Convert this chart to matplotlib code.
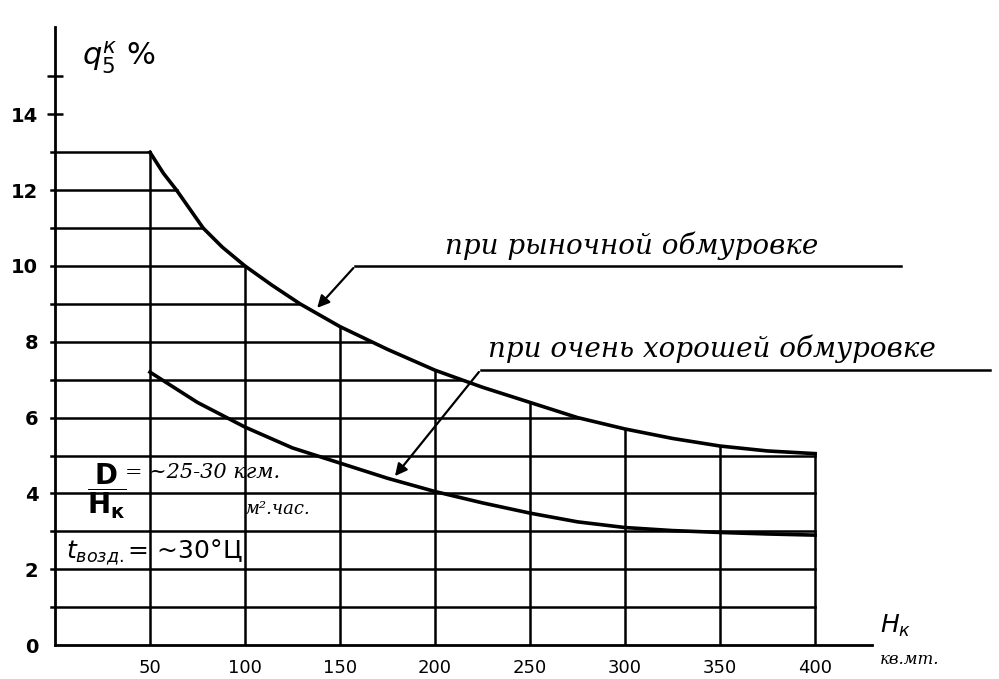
import numpy as np
import matplotlib
matplotlib.use("Agg")
import matplotlib.pyplot as plt

# readings (x in кв.мт., q in %)
x_upper = [50, 57, 64, 71, 78, 88, 100, 114, 129, 150, 175, 200, 225, 250, 275, 300, 325, 350, 375, 400]
q_upper = [13.0, 12.45, 12.0, 11.5, 11.0, 10.5, 10.0, 9.5, 9.0, 8.4, 7.8, 7.25, 6.8, 6.4, 6.0, 5.7, 5.45, 5.25, 5.12, 5.05]

x_lower = [50, 75, 100, 125, 150, 175, 200, 225, 250, 275, 300, 325, 350, 375, 400]
q_lower = [7.2, 6.4, 5.75, 5.2, 4.8, 4.4, 4.05, 3.75, 3.48, 3.25, 3.1, 3.02, 2.97, 2.93, 2.9]

x_ticks = [50, 100, 150, 200, 250, 300, 350, 400]
y_ticks = [0, 2, 4, 6, 8, 10, 12, 14]
grid_levels = list(range(1, 14))

label_upper = "при рыночной обмуровке"
label_lower = "при очень хорошей обмуровке"

hand = dict(family="DejaVu Serif", style="italic")

fig = plt.figure(figsize=(9.99, 6.79), dpi=100)
ax = fig.add_axes([0.055, 0.050, 0.818, 0.91])
ax.set_xlim(0, 430)
ax.set_ylim(0, 16.3)

for s in ["top", "right"]:
    ax.spines[s].set_visible(False)
ax.spines["left"].set_linewidth(2)
ax.spines["bottom"].set_linewidth(2)

# grid only under the upper curve
for k in grid_levels:
    x_end = np.interp(k, q_upper[::-1], x_upper[::-1])
    ax.plot([-2, x_end], [k, k], color="black", lw=1.8, clip_on=False)
for xv in x_ticks:
    top = np.interp(xv, x_upper, q_upper)
    ax.plot([xv, xv], [0, top], color="black", lw=1.8)

ax.plot(x_upper, q_upper, color="black", lw=2.6)
ax.plot(x_lower, q_lower, color="black", lw=2.6)

# ticks
ax.yaxis.remove_overlapping_locs = False
ax.set_xticks(x_ticks)
ax.set_xticklabels([str(v) for v in x_ticks], fontsize=13)
ax.set_yticks(y_ticks)
ax.set_yticklabels([str(v) for v in y_ticks], fontsize=14, fontweight="bold")
ax.set_yticks([14, 15], minor=True)
ax.tick_params(axis="x", length=0, pad=10)
ax.tick_params(axis="y", which="major", length=0, pad=12)
ax.tick_params(axis="y", which="minor", direction="inout", length=12, width=1.8)

# axis titles
ax.text(14, 15.0, r"$q_5^к$ %", fontsize=22, va="bottom", ha="left", clip_on=False)
ax.text(434, 0.15, r"$H_к$", fontsize=18, **hand, va="bottom", clip_on=False)
ax.text(434, -0.15, "кв.мт.", fontsize=12, **hand, va="top", clip_on=False)

# curve labels with leaders
ax.text(205, 10.15, label_upper, fontsize=20, va="bottom", **hand, clip_on=False)
ax.plot([158, 445], [10, 10], color="black", lw=1.8, clip_on=False)
ax.annotate("", xy=(137, 8.84), xytext=(158, 10),
            arrowprops=dict(arrowstyle="-|>", color="black", lw=1.6, mutation_scale=18))

ax.text(228, 7.45, label_lower, fontsize=20, va="bottom", **hand, clip_on=False)
ax.plot([224, 492], [7.26, 7.26], color="black", lw=1.8, clip_on=False)
ax.annotate("", xy=(178, 4.4), xytext=(224, 7.26),
            arrowprops=dict(arrowstyle="-|>", color="black", lw=1.6, mutation_scale=18))

# conditions
ax.text(17, 4.05, r"$\mathbf{\dfrac{D}{H_к}}$", fontsize=20, va="center", ha="left")
ax.text(37, 4.55, "= ~25-30 кгм.", fontsize=15, **hand, va="center")
ax.text(100, 3.6, "м².час.", fontsize=13, **hand, va="center")
ax.text(6, 2.45, r"$t_{возд.}$= ~30°Ц", fontsize=18, va="center", ha="left")

fig.savefig("out.png", dpi=100)
